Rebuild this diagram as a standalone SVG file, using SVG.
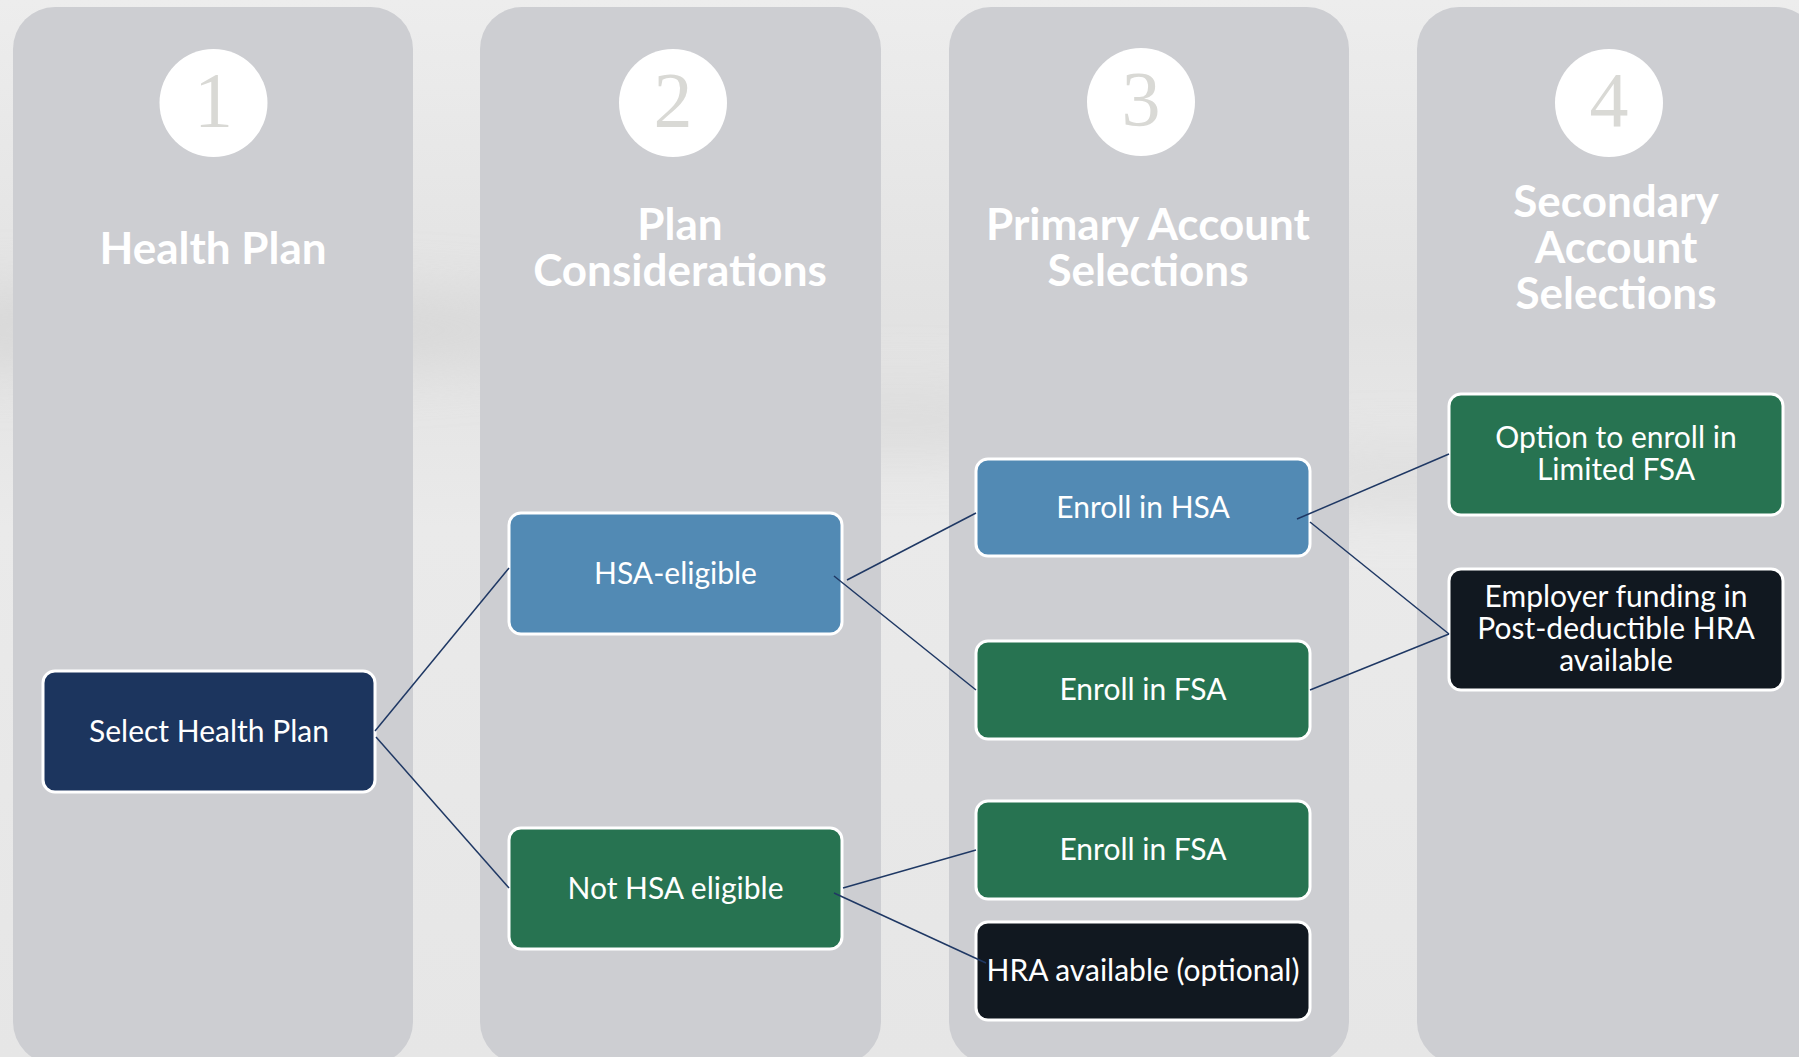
<svg xmlns="http://www.w3.org/2000/svg" width="1799" height="1057" viewBox="0 0 1799 1057">
  <defs>
    <linearGradient id="bg" x1="0" y1="0" x2="0" y2="1">
      <stop offset="0" stop-color="#ededed"/>
      <stop offset="0.3" stop-color="#e2e2e2"/>
      <stop offset="0.5" stop-color="#eaeaea"/>
      <stop offset="1" stop-color="#e6e6e6"/>
    </linearGradient>
    <filter id="blur" x="-50%" y="-50%" width="200%" height="200%">
      <feGaussianBlur stdDeviation="30"/>
    </filter>
    <style>
      .panel { fill: #cdced2; }
      .badge { fill: #ffffff; }
      .num { font-family: "Liberation Serif", "DejaVu Serif", serif; font-size: 78px; fill: #d9d9d5; text-anchor: middle; }
      .title { font-family: Lato, "Liberation Sans", sans-serif; font-weight: bold; font-size: 44px; fill: #ffffff; text-anchor: middle; }
      .box { stroke: #ffffff; stroke-width: 3; }
      .navy { fill: #1c355e; }
      .blue { fill: #528ab4; }
      .green { fill: #277351; }
      .black { fill: #111820; }
      .label { font-family: Lato, "Liberation Sans", sans-serif; font-size: 30px; fill: #ffffff; text-anchor: middle; }
      .conn { stroke: #1f3864; stroke-width: 1.5; fill: none; }
    </style>
  </defs>

  <rect x="0" y="0" width="1799" height="1057" fill="url(#bg)"/>
  <g filter="url(#blur)" opacity="0.6">
    <ellipse cx="200" cy="330" rx="400" ry="40" fill="#d0d0d0"/>
    <ellipse cx="900" cy="420" rx="200" ry="30" fill="#d4d4d4"/>
    <ellipse cx="1400" cy="480" rx="150" ry="25" fill="#d4d4d4"/>
  </g>

  <g id="panels">
    <rect class="panel" x="13" y="7" width="400" height="1057" rx="42"/>
    <rect class="panel" x="480" y="7" width="401" height="1057" rx="42"/>
    <rect class="panel" x="949" y="7" width="400" height="1057" rx="42"/>
    <rect class="panel" x="1417" y="7" width="401" height="1057" rx="42"/>
  </g>

  <g id="header-1">
    <circle class="badge" cx="213.5" cy="103" r="54"/>
    <text class="num" x="213.5" y="126">1</text>
    <text class="title" x="213" y="264">Health Plan</text>
  </g>
  <g id="header-2">
    <circle class="badge" cx="673" cy="103" r="54"/>
    <text class="num" x="673" y="126">2</text>
    <text class="title" x="680" y="240">Plan</text>
    <text class="title" x="680" y="286">Considerations</text>
  </g>
  <g id="header-3">
    <circle class="badge" cx="1141" cy="102" r="54"/>
    <text class="num" x="1141" y="125">3</text>
    <text class="title" x="1148" y="240">Primary Account</text>
    <text class="title" x="1148" y="286">Selections</text>
  </g>
  <g id="header-4">
    <circle class="badge" cx="1609" cy="103" r="54"/>
    <text class="num" x="1609" y="126">4</text>
    <text class="title" x="1616" y="217">Secondary</text>
    <text class="title" x="1616" y="263">Account</text>
    <text class="title" x="1616" y="309">Selections</text>
  </g>

  <g id="node-select-health-plan">
    <rect class="box navy" x="43" y="671" width="332" height="121" rx="12"/>
    <text class="label" x="209" y="742">Select Health Plan</text>
  </g>
  <g id="node-hsa-eligible">
    <rect class="box blue" x="509" y="513" width="333" height="121" rx="12"/>
    <text class="label" x="675.5" y="584">HSA-eligible</text>
  </g>
  <g id="node-not-hsa-eligible">
    <rect class="box green" x="509" y="828" width="333" height="121" rx="12"/>
    <text class="label" x="675.5" y="899">Not HSA eligible</text>
  </g>
  <g id="node-enroll-hsa">
    <rect class="box blue" x="976" y="459" width="334" height="97" rx="12"/>
    <text class="label" x="1143" y="518">Enroll in HSA</text>
  </g>
  <g id="node-enroll-fsa-1">
    <rect class="box green" x="976" y="641" width="334" height="98" rx="12"/>
    <text class="label" x="1143" y="700">Enroll in FSA</text>
  </g>
  <g id="node-enroll-fsa-2">
    <rect class="box green" x="976" y="801" width="334" height="98" rx="12"/>
    <text class="label" x="1143" y="860">Enroll in FSA</text>
  </g>
  <g id="node-hra-optional">
    <rect class="box black" x="976" y="922" width="334" height="98" rx="12"/>
    <text class="label" x="1143" y="981">HRA available (optional)</text>
  </g>
  <g id="node-limited-fsa">
    <rect class="box green" x="1449" y="394" width="334" height="121" rx="12"/>
    <text class="label" x="1616" y="448">Option to enroll in</text>
    <text class="label" x="1616" y="480">Limited FSA</text>
  </g>
  <g id="node-employer-hra">
    <rect class="box black" x="1449" y="569" width="334" height="121" rx="12"/>
    <text class="label" x="1616" y="607">Employer funding in</text>
    <text class="label" x="1616" y="639">Post-deductible HRA</text>
    <text class="label" x="1616" y="671">available</text>
  </g>

  <g id="connectors">
    <line class="conn" x1="375" y1="731" x2="509" y2="568" stroke="#1a1f2a"/>
    <line class="conn" x1="376" y1="737" x2="509" y2="888"/>
    <line class="conn" x1="847" y1="580" x2="976" y2="513"/>
    <line class="conn" x1="834" y1="576" x2="976" y2="690"/>
    <line class="conn" x1="843" y1="888" x2="976" y2="850"/>
    <line class="conn" x1="834" y1="893" x2="986" y2="963"/>
    <line class="conn" x1="1297" y1="519" x2="1449" y2="454"/>
    <line class="conn" x1="1310" y1="522" x2="1449" y2="634"/>
    <line class="conn" x1="1310" y1="690" x2="1449" y2="634"/>
  </g>
</svg>
